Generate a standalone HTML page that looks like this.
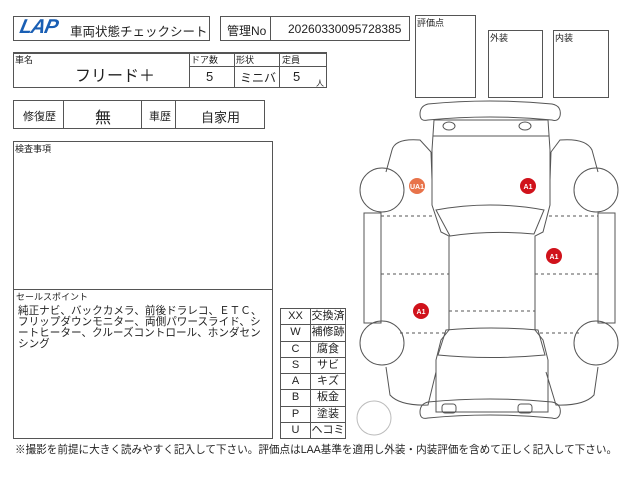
<!DOCTYPE html>
<html><head><meta charset="utf-8"><style>
*{margin:0;padding:0;box-sizing:border-box}
body{width:640px;height:480px;background:#fff;position:relative;overflow:hidden;font-family:"Liberation Sans","Noto Sans CJK JP",sans-serif;color:#222}
.b{position:absolute;border:1px solid #555}
.t{position:absolute;white-space:nowrap}
.lr{position:absolute;left:280px;width:66px;height:17.25px;border:1px solid #555;font-size:11px;line-height:15px}
.lr span{position:absolute;top:0;text-align:center}
.lr span:first-child{left:0;width:29px}
.lr span:last-child{left:29px;width:35px;border-left:1px solid #555;height:15.5px}
</style></head><body>
<!-- header -->
<div class="b" style="left:13px;top:16px;width:197px;height:25px"></div>
<div class="t" style="left:20px;top:16px;font-size:20px;font-weight:bold;font-style:italic;color:#1a5fb4;letter-spacing:-1px;transform:skewX(-12deg)">LAP</div>
<div class="t" style="left:70px;top:21px;font-size:12.5px">車両状態チェックシート</div>
<div class="b" style="left:220px;top:16px;width:190px;height:25px"></div>
<div class="b" style="left:270px;top:16px;width:0;height:25px;border-width:0 0 0 1px"></div>
<div class="t" style="left:227px;top:22px;font-size:12px">管理No</div>
<div class="t" style="left:288px;top:22px;font-size:12px">20260330095728385</div>
<div class="b" style="left:415px;top:15px;width:61px;height:83px"></div>
<div class="t" style="left:417px;top:16px;font-size:9px">評価点</div>
<div class="b" style="left:488px;top:30px;width:55px;height:68px"></div>
<div class="t" style="left:490px;top:31px;font-size:9px">外装</div>
<div class="b" style="left:553px;top:30px;width:56px;height:68px"></div>
<div class="t" style="left:555px;top:31px;font-size:9px">内装</div>
<!-- car name row -->
<div class="b" style="left:13px;top:52px;width:314px;height:36px;border-width:2px 1px 1px 1px"></div>
<div class="b" style="left:189px;top:52px;width:138px;height:36px"></div>
<div class="b" style="left:189px;top:52px;width:138px;height:15px"></div>
<div class="b" style="left:234px;top:52px;width:46px;height:36px"></div>
<div class="t" style="left:15px;top:53px;font-size:9px">車名</div>
<div class="t" style="left:75px;top:62px;font-size:16px">フリード＋</div>
<div class="t" style="left:191px;top:53px;font-size:9px">ドア数</div>
<div class="t" style="left:236px;top:53px;font-size:9px">形状</div>
<div class="t" style="left:282px;top:53px;font-size:9px">定員</div>
<div class="t" style="left:206px;top:69px;font-size:13px">5</div>
<div class="t" style="left:240px;top:69px;font-size:12px">ミニバ</div>
<div class="t" style="left:293px;top:69px;font-size:13px">5</div>
<div class="t" style="left:316px;top:78px;font-size:8px">人</div>
<!-- repair row -->
<div class="b" style="left:13px;top:100px;width:252px;height:29px"></div>
<div class="b" style="left:63px;top:100px;width:79px;height:29px"></div>
<div class="b" style="left:175px;top:100px;width:0;height:29px;border-width:0 0 0 1px"></div>
<div class="t" style="left:23px;top:108px;font-size:11px">修復歴</div>
<div class="t" style="left:95px;top:104px;font-size:16px">無</div>
<div class="t" style="left:149px;top:108px;font-size:11px">車歴</div>
<div class="t" style="left:201px;top:107px;font-size:13px">自家用</div>
<!-- inspection -->
<div class="b" style="left:13px;top:141px;width:260px;height:298px"></div>
<div class="b" style="left:13px;top:289px;width:260px;height:0;border-width:1px 0 0 0"></div>
<div class="t" style="left:15px;top:142px;font-size:9px">検査事項</div>
<div class="t" style="left:16px;top:290px;font-size:9px">セールスポイント</div>
<div class="t" style="left:18px;top:306px;font-size:10.6px;line-height:11px">純正ナビ、バックカメラ、前後ドラレコ、ＥＴＣ、<br>フリップダウンモニター、両側パワースライド、シ<br>ートヒーター、クルーズコントロール、ホンダセン<br>シング</div>
<div class="lr" style="top:308px"><span>XX</span><span>交換済</span></div>
<div class="lr" style="top:324.25px"><span>W</span><span>補修跡</span></div>
<div class="lr" style="top:340.5px"><span>C</span><span>腐食</span></div>
<div class="lr" style="top:356.75px"><span>S</span><span>サビ</span></div>
<div class="lr" style="top:373px"><span>A</span><span>キズ</span></div>
<div class="lr" style="top:389.25px"><span>B</span><span>板金</span></div>
<div class="lr" style="top:405.5px"><span>P</span><span>塗装</span></div>
<div class="lr" style="top:421.75px"><span>U</span><span>ヘコミ</span></div>
<div class="t" style="left:15px;top:442px;font-size:10.6px">※撮影を前提に大きく読みやすく記入して下さい。評価点はLAA基準を適用し外装・内装評価を含めて正しく記入して下さい。</div>
<!-- car -->
<svg style="position:absolute;left:0;top:0" width="640" height="480" fill="none" stroke="#555" stroke-width="1">
<path d="M428 104 Q490 98 552 104 Q562 106 560 116 Q558 122 552 120 Q490 114 428 120 Q420 122 420 114 Q420 106 428 104Z"/>
<path d="M428 402 Q490 396 552 402 Q562 404 560 414 Q558 420 552 418 Q490 412 428 418 Q420 420 420 412 Q420 404 428 402Z"/>
<path d="M434 120 L548 120 L550 150 L550 205 L543 232 L535 236 L535 330 L543 340 L548 360 L548 412 L436 412 L436 360 L441 340 L449 330 L449 236 L441 232 L432 205 L432 150Z"/>
<line x1="433" y1="136" x2="549" y2="136"/>
<ellipse cx="449" cy="126" rx="6" ry="4"/><ellipse cx="525" cy="126" rx="6" ry="4"/>
<path d="M436 210 Q490 200 544 210 L534 234 Q490 230 450 236Z"/>
<path d="M446 330 Q490 326 538 330 L545 355 Q490 360 438 355Z"/>
<rect x="442" y="404" width="14" height="9" rx="3"/><rect x="518" y="404" width="14" height="9" rx="3"/>
<path d="M431 152 L420 140 Q395 138 392 150 L386 172 M431 152 L432 180"/>
<path d="M551 152 L560 140 Q586 138 592 150 L598 172 M551 152 L550 180"/>
<path d="M436 372 L428 405 Q400 406 390 395 L386 367"/>
<path d="M546 372 L556 405 Q584 406 594 395 L598 367"/>
<circle cx="382" cy="190" r="22"/><circle cx="382" cy="343" r="22"/>
<circle cx="596" cy="190" r="22"/><circle cx="596" cy="343" r="22"/>
<rect x="364" y="213" width="17" height="110"/><rect x="598" y="213" width="17" height="110"/>
<g stroke-dasharray="3,3">
<line x1="381" y1="216" x2="432" y2="216"/><line x1="549" y1="216" x2="598" y2="216"/>
<line x1="381" y1="274" x2="449" y2="274"/><line x1="535" y1="274" x2="598" y2="274"/>
<line x1="449" y1="311" x2="535" y2="311"/>
<line x1="400" y1="333" x2="445" y2="333"/><line x1="540" y1="333" x2="580" y2="333"/>
</g>
<circle cx="374" cy="418" r="17" stroke="#bbb"/>
</svg>
<svg style="position:absolute;left:0;top:0" width="640" height="480">
<circle cx="417" cy="186" r="8" fill="#e8734a"/><text x="417" y="189" font-size="7" fill="#fff" text-anchor="middle" font-family="Liberation Sans" font-weight="bold">UA1</text>
<circle cx="528" cy="186" r="8" fill="#d0121b"/><text x="528" y="189" font-size="7" fill="#fff" text-anchor="middle" font-family="Liberation Sans" font-weight="bold">A1</text>
<circle cx="554" cy="256" r="8" fill="#d0121b"/><text x="554" y="259" font-size="7" fill="#fff" text-anchor="middle" font-family="Liberation Sans" font-weight="bold">A1</text>
<circle cx="421" cy="311" r="8" fill="#d0121b"/><text x="421" y="314" font-size="7" fill="#fff" text-anchor="middle" font-family="Liberation Sans" font-weight="bold">A1</text>
</svg>
</body></html>
